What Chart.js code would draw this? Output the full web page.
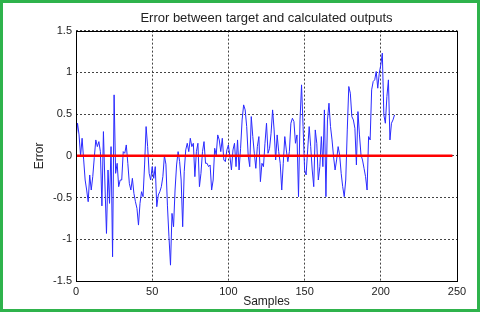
<!DOCTYPE html>
<html>
<head>
<meta charset="utf-8">
<script src="https://cdn.jsdelivr.net/npm/chart.js@4"></script>
<style>
    body { margin: 0; background: #fff; }
    #wrap { position: relative; width: 480px; height: 312px; }
    #frame { position: absolute; left: 0; top: 0; width: 480px; height: 312px;
             box-sizing: border-box; border: 3px solid #2fb34c; pointer-events: none; }
</style>
</head>
<body>
<div id="wrap">
    <canvas id="err-chart" width="480" height="312"></canvas>
    <div id="frame"></div>
</div>

<script>
    // error per sample (samples 0..209)
    const errors = [
        0.20, 0.39, 0.25, 0.00, 0.21, -0.04, -0.29, -0.41, -0.55, -0.23,
        -0.41, -0.25, -0.02, 0.19, 0.11, 0.17, 0.05, -0.60, 0.29, -0.35,
        -0.93, -0.17, -0.57, 0.11, -1.21, 0.73, -0.21, -0.09, -0.37, -0.29,
        -0.29, 0.05, 0.03, 0.13, -0.09, -0.33, -0.41, -0.27, -0.45, -0.55,
        -0.63, -0.83, -0.57, -0.43, -0.49, -0.11, 0.35, 0.11, -0.21, -0.29,
        -0.13, -0.27, -0.13, -0.61, -0.47, -0.43, -0.37, -0.25, 0.00, -0.10,
        -0.60, -0.97, -1.31, -0.69, -0.85, -0.41, -0.11, 0.05, -0.07, -0.29,
        -0.85, -0.19, 0.07, 0.15, 0.05, 0.21, 0.11, 0.15, -0.25, 0.05,
        0.15, -0.37, -0.21, 0.05, 0.17, -0.09, -0.09, -0.13, -0.11, -0.41,
        -0.29, 0.09, 0.01, 0.25, 0.19, 0.05, 0.21, -0.05, -0.07, 0.07,
        0.13, -0.01, -0.17, 0.07, 0.15, -0.13, 0.19, -0.17, 0.09, 0.43,
        0.61, 0.55, 0.35, 0.00, -0.13, 0.47, 0.23, 0.03, -0.15, 0.11,
        0.23, -0.31, -0.09, -0.13, 0.15, 0.39, 0.03, 0.09, 0.27, 0.55,
        0.31, -0.05, 0.25, 0.05, -0.09, -0.41, -0.09, 0.23, 0.07, -0.07,
        0.05, 0.39, 0.45, 0.41, 0.15, 0.25, -0.49, 0.43, 0.85, 0.35,
        -0.17, -0.23, 0.07, 0.35, 0.11, -0.17, -0.37, 0.31, 0.15, -0.29,
        -0.13, 0.23, -0.13, 0.55, -0.49, 0.43, 0.63, 0.35, 0.19, -0.01,
        -0.17, -0.05, 0.11, 0.01, -0.21, -0.37, -0.49, -0.29, 0.31, 0.83,
        0.75, 0.47, 0.43, 0.33, -0.11, 0.53, 0.25, 0.01, -0.05, -0.15,
        -0.25, -0.41, 0.23, 0.19, 0.79, 0.89, 0.91, 1.01, 0.81, 0.99,
        1.09, 1.23, 0.49, 0.39, 0.71, 0.91, 0.19, 0.39, 0.43, 0.49
    ];
    const zeroLineX = [0, 247];
    const zeroLineY = [0, 0];
    const xTicks = [0, 50, 100, 150, 200, 250];
    const yTicks = [-1.5, -1, -0.5, 0, 0.5, 1, 1.5];

    const FAMILY = '"Liberation Sans", Arial, sans-serif';
    const FONT = { family: FAMILY, size: 11, weight: 'normal' };
    const dotted = { color: '#444', lineWidth: 1, drawTicks: false };
    // in v4 the grid line dash lives under border
    const noBorder = { display: false, dash: [2, 2] };

    // solid box round the plot area, like matlab's axes
    const box = {
        id: 'box',
        afterDatasetsDraw(chart) {
            const { ctx, chartArea: a } = chart;
            ctx.save();
            ctx.strokeStyle = '#000'; ctx.lineWidth = 1;
            ctx.strokeRect(Math.round(a.left) + 0.5, Math.round(a.top) + 0.5,
                Math.round(a.right - a.left), Math.round(a.bottom - a.top));
            ctx.restore();
        }
    };

    Chart.defaults.font = FONT;
    Chart.defaults.color = '#222';

    new Chart(document.getElementById('err-chart'), {
        type: 'line',
        data: {
            datasets: [
                {
                    label: 'zero', data: zeroLineX.map((x, i) => ({ x, y: zeroLineY[i] })),
                    borderColor: '#ff0000', borderWidth: 2.5, pointRadius: 0, order: 0
                },
                {
                    label: 'error', data: errors.map((y, i) => ({ x: i, y })),
                    borderColor: '#2a2aff', borderWidth: 1, pointRadius: 0, order: 1
                }
            ]
        },
        options: {
            responsive: false, animation: false,
            layout: { padding: { left: 0, right: 23, top: 0, bottom: 0 } },
            plugins: {
                legend: { display: false },
                tooltip: { enabled: false },
                title: {
                    display: true, text: 'Error between target and calculated outputs',
                    fullSize: false, font: { family: FAMILY, size: 13, weight: 'normal' },
                    color: '#222', padding: { top: 11, bottom: 4 }
                }
            },
            scales: {
                x: {
                    type: 'linear', min: 0, max: 250,
                    afterBuildTicks: s => { s.ticks = xTicks.map(v => ({ value: v })); },
                    afterFit: s => { s.height = 31; },
                    ticks: { padding: 4, maxRotation: 0 },
                    grid: dotted, border: noBorder,
                    title: {
                        display: true, text: 'Samples', font: { family: FAMILY, size: 12 },
                        padding: { top: 0, bottom: 3 }
                    }
                },
                y: {
                    min: -1.5, max: 1.5,
                    afterBuildTicks: s => { s.ticks = yTicks.map(v => ({ value: v })); },
                    afterFit: s => { s.width = 76; },
                    ticks: { padding: 4, callback: v => String(v) },
                    grid: dotted, border: noBorder,
                    title: {
                        display: true, text: 'Error', font: { family: FAMILY, size: 12 },
                        padding: { top: 32, bottom: 0 }
                    }
                }
            }
        },
        plugins: [box]
    });
</script>
</body>
</html>
